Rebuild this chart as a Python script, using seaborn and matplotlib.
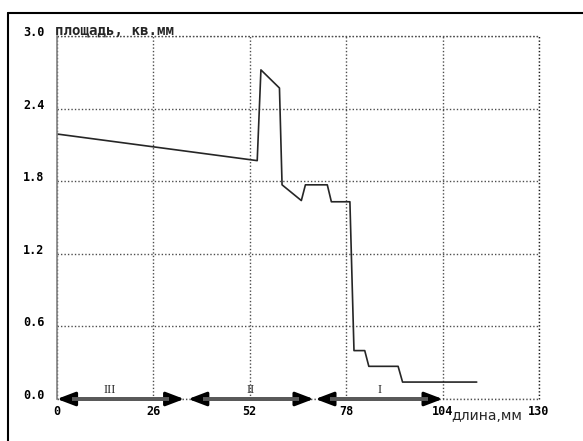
import matplotlib
matplotlib.use('Agg')
import matplotlib.pyplot as plt
import numpy as np
import pandas as pd
import seaborn as sns
from matplotlib.lines import Line2D

# profile
length = [0, 54, 55, 60, 60.7, 65.9, 67, 72.9, 74, 79, 80.1, 83, 84.1, 92, 93.2, 113.2]
area = [2.19, 1.97, 2.72, 2.57, 1.77, 1.64, 1.77, 1.77, 1.63, 1.63,
        0.40, 0.40, 0.27, 0.27, 0.14, 0.14]

xticks = [0, 26, 52, 78, 104, 130]
yticks = [0.0, 0.6, 1.2, 1.8, 2.4, 3.0]

# zones along the length axis
zone_names = ['III', 'II', 'I']
zone_start = [0, 35.4, 69.7]
zone_end = [34.3, 69.2, 104]
zone_mid = [14.3, 52.2, 87]

df = pd.DataFrame({'length': length, 'area': area})

sns.set_style('white')
plt.rcParams['font.family'] = ['DejaVu Sans Mono', 'DejaVu Sans']

fig = plt.figure(figsize=(5.83, 4.41), dpi=100)
ax = fig.add_axes([57 / 583, 42 / 441, 482 / 583, 363 / 441])

sns.lineplot(data=df, x='length', y='area', sort=False, estimator=None,
             color='0.15', lw=1.2, ax=ax)

ax.set(xlim=(0, 130), ylim=(0, 3), xlabel='', ylabel='')
ax.set_xticks(xticks)
ax.set_xticklabels([str(t) for t in xticks])
ax.set_yticks(yticks)
ax.set_yticklabels([f'{t:.1f}' for t in yticks])
ax.tick_params(length=0, labelsize=8.5, labelcolor='black')
ax.tick_params(axis='y', pad=9)
ax.tick_params(axis='x', pad=4)
for lbl in ax.get_xticklabels() + ax.get_yticklabels():
    lbl.set_fontweight('bold')
for lbl in ax.get_yticklabels():
    lbl.set_verticalalignment('baseline')

# dotted grid, including the plot edges
dots = (0, (1, 1.5))
ax.grid(True, color='0.3', linestyle=dots, lw=1)
for side in ['top', 'right', 'bottom']:
    ax.spines[side].set_visible(False)
ax.axhline(3, color='0.3', linestyle=dots, lw=1, clip_on=False)
ax.axhline(0, color='0.3', linestyle=dots, lw=1, clip_on=False)
ax.axvline(130, color='0.1', linestyle=dots, lw=1, clip_on=False)
ax.spines['left'].set_color('0.5')
ax.spines['left'].set_linewidth(1.2)

# zone arrows: black heads, grey shaft
for name, a, b, m in zip(zone_names, zone_start, zone_end, zone_mid):
    ax.annotate('', xy=(b, 0), xytext=(a, 0),
                arrowprops=dict(arrowstyle='<|-|>,head_length=1.0,head_width=0.38',
                                mutation_scale=11, color='black', lw=2.2,
                                shrinkA=0, shrinkB=0),
                annotation_clip=False)
    ax.hlines(0, a + 4, b - 4, color='0.35', lw=2.8, zorder=5, clip_on=False)
    ax.text(m, 0.075, name, ha='center', va='center', fontsize=9,
            family='Liberation Serif')

ax.text(-0.004, 1.003, 'площадь, кв.мм', transform=ax.transAxes,
        ha='left', va='baseline', fontsize=10.2, fontweight='bold')
ax.text(451 / 583, 21 / 441, 'длина,мм', transform=fig.transFigure,
        ha='left', va='baseline', fontsize=10, family='DejaVu Sans')

# outer frame (left and top edges)
fig.add_artist(Line2D([8 / 583, 1], [428 / 441, 428 / 441], color='black', lw=1.5))
fig.add_artist(Line2D([8 / 583, 8 / 583], [0, 428 / 441], color='black', lw=1.5))

fig.savefig('out.png', dpi=100)
